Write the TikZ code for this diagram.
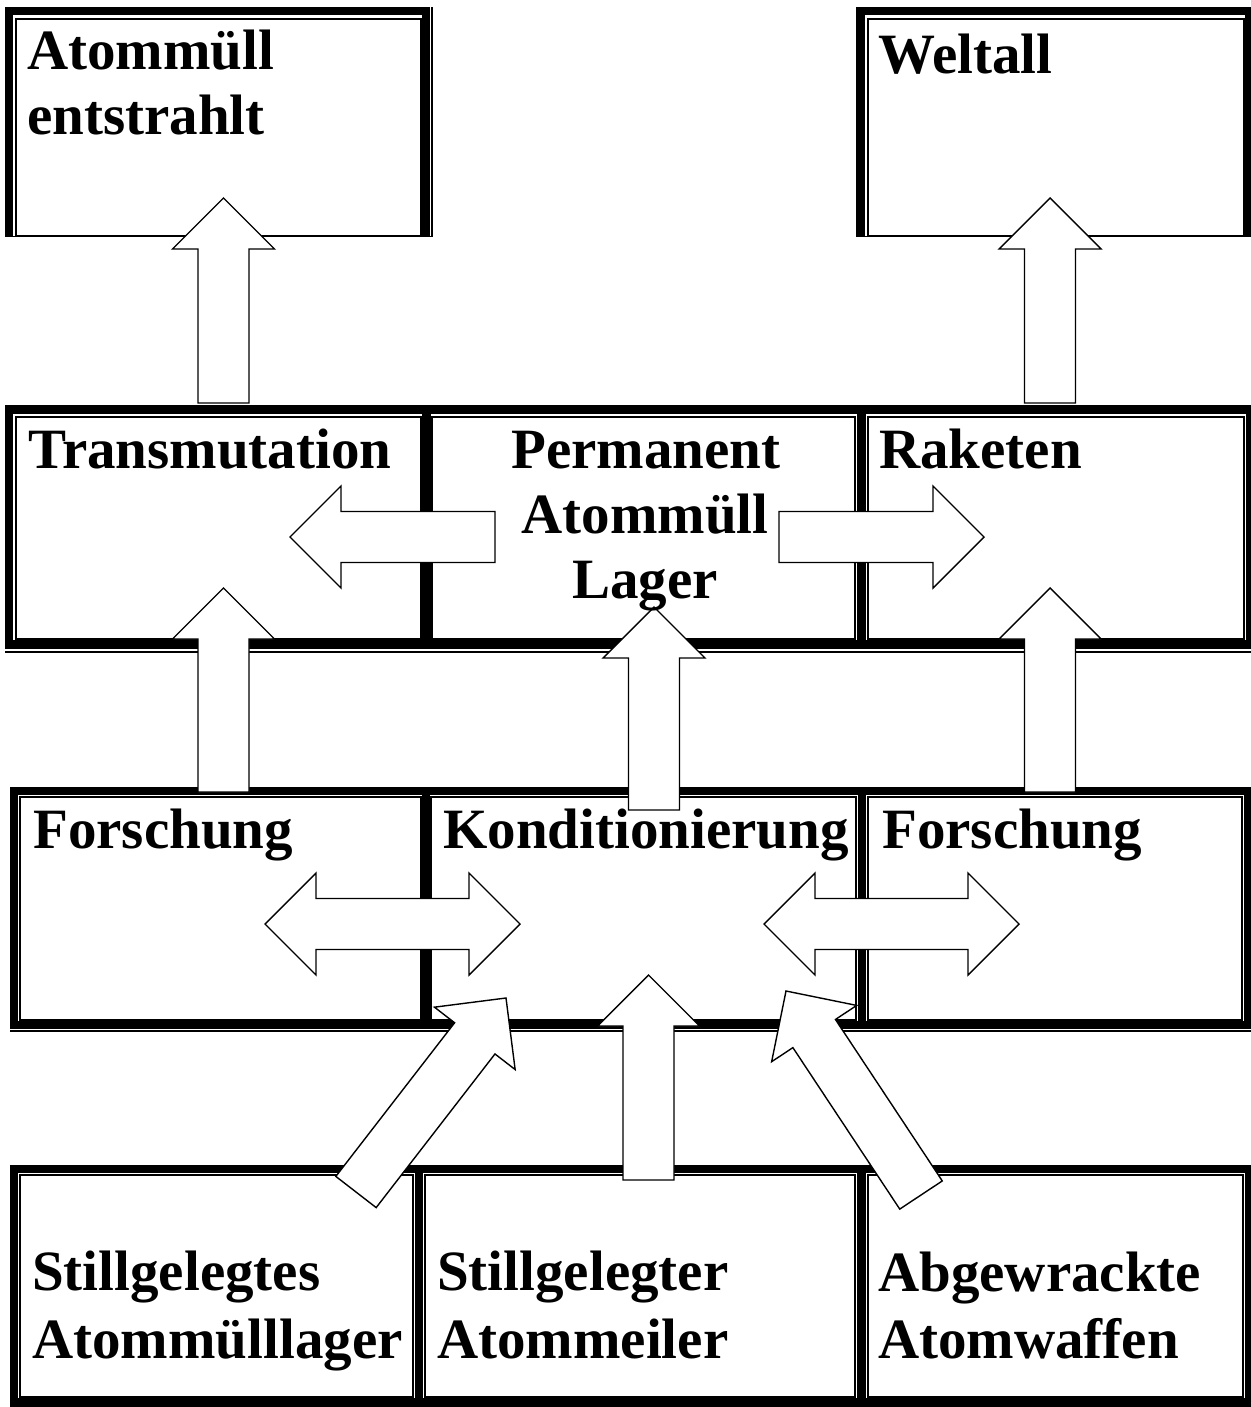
\documentclass[tikz,border=0pt]{standalone}
\usepackage{fontspec}
\setmainfont{Liberation Serif}
\usetikzlibrary{calc}
\newcommand\aw{25.5}
\newcommand\ah{51}
\newcommand\al{51}
\newcommand\mkcell[5]{\node[cell, minimum width={(#4)-(#2)}, minimum height={(#5)-(#3)}] (#1) at ({((#2)+(#4))/2},{((#3)+(#5))/2}) {};}
\tikzset{
  cell/.style={rectangle, draw=none, inner sep=0pt, outer sep=0pt},
  thinln/.style={line width=1.3pt},
  thickln/.style={line width=8.5pt, line join=miter},
  lbl/.style={inner sep=0pt, anchor=base west, font=\bfseries\fontsize{57}{65}\selectfont},
  clbl/.style={inner sep=0pt, anchor=base, font=\bfseries\fontsize{57}{65}\selectfont},
  blk/.style={draw=black, fill=white, line width=1.4pt, line join=miter},
  blockarrow/.style={blk, to path={
    let \p1=(\tikztostart), \p2=(\tikztotarget),
        \n1={atan2(\y2-\y1,\x2-\x1)}, \n2={veclen(\x2-\x1,\y2-\y1)}, \n3={\n2-\al}
    in ($(\p1)+(\n1+90:\aw pt)$)
    -- ($(\p1)+(\n1:\n3)+(\n1+90:\aw pt)$)
    -- ($(\p1)+(\n1:\n3)+(\n1+90:\ah pt)$)
    -- (\p2)
    -- ($(\p1)+(\n1:\n3)+(\n1-90:\ah pt)$)
    -- ($(\p1)+(\n1:\n3)+(\n1-90:\aw pt)$)
    -- ($(\p1)+(\n1-90:\aw pt)$) -- cycle}},
  dblarrow/.style={blk, to path={
    let \p1=(\tikztostart), \p2=(\tikztotarget),
        \n1={atan2(\y2-\y1,\x2-\x1)}, \n2={veclen(\x2-\x1,\y2-\y1)}, \n3={\n2-\al}
    in (\p1)
    -- ($(\p1)+(\n1:\al pt)+(\n1+90:\ah pt)$)
    -- ($(\p1)+(\n1:\al pt)+(\n1+90:\aw pt)$)
    -- ($(\p1)+(\n1:\n3)+(\n1+90:\aw pt)$)
    -- ($(\p1)+(\n1:\n3)+(\n1+90:\ah pt)$)
    -- (\p2)
    -- ($(\p1)+(\n1:\n3)+(\n1-90:\ah pt)$)
    -- ($(\p1)+(\n1:\n3)+(\n1-90:\aw pt)$)
    -- ($(\p1)+(\n1:\al pt)+(\n1-90:\aw pt)$)
    -- ($(\p1)+(\n1:\al pt)+(\n1-90:\ah pt)$) -- cycle}},
}
\begin{document}
\begin{tikzpicture}[x=1pt,y=-1pt]
\useasboundingbox (0,0) rectangle (1250,1407);
% cells (inner rectangles)
\mkcell{c11}{16}{19}{421}{236}
\mkcell{c13}{868}{19}{1244}{236}
\mkcell{c21}{16}{417}{421}{639}
\mkcell{c22}{432}{417}{855}{639}
\mkcell{c23}{868}{417}{1244}{639}
\mkcell{c31}{20}{797}{421}{1020}
\mkcell{c32}{431}{797}{856}{1020}
\mkcell{c33}{868}{797}{1242}{1020}
\mkcell{c41}{20}{1175}{413}{1397}
\mkcell{c42}{425}{1175}{855}{1397}
\mkcell{c43}{868}{1175}{1243}{1397}
% thick frames
\draw[thickln] ($(c11.south west)+(-7,0)$) -- ($(c11.north west)+(-7,-8)$) -- ($(c11.north east)+(5,-8)$) -- ($(c11.south east)+(5,0)$);
\draw[thickln] ($(c13.south west)+(-7.5,0)$) -- ($(c13.north west)+(-7.5,-8)$) -- ($(c13.north east)+(5,-8)$) -- ($(c13.south east)+(5,0)$);
\draw[thickln] ($(c21.north west)+(-7,-7.5)$) rectangle ($(c23.south east)+(6,5.5)$);
\draw[thickln] ($(c21.north east)!0.5!(c22.north west)+(0,-7.5)$) -- ($(c21.south east)!0.5!(c22.south west)+(0,5.5)$);
\draw[thickln] ($(c22.north east)!0.5!(c23.north west)+(0,-7.5)$) -- ($(c22.south east)!0.5!(c23.south west)+(0,5.5)$);
\draw[thickln] ($(c31.north west)+(-6,-6)$) rectangle ($(c33.south east)+(6,5)$);
\draw[thickln] ($(c31.north east)!0.5!(c32.north west)+(0,-6)$) -- ($(c31.south east)!0.5!(c32.south west)+(0,5)$);
\draw[thickln] ($(c32.north east)!0.5!(c33.north west)+(0,-6)$) -- ($(c32.south east)!0.5!(c33.south west)+(0,5)$);
\draw[thickln] ($(c41.north west)+(-6,-6)$) rectangle ($(c43.south east)+(6,5.5)$);
\draw[thickln] ($(c41.north east)!0.5!(c42.north west)+(0,-6)$) -- ($(c41.south east)!0.5!(c42.south west)+(0,5.5)$);
\draw[thickln] ($(c42.north east)!0.5!(c43.north west)+(0,-6)$) -- ($(c42.south east)!0.5!(c43.south west)+(0,5.5)$);
% thin lines
\foreach \c in {c11,c13,c21,c22,c23,c31,c32,c33,c41,c42,c43}
  \draw[thinln] (\c.north west) rectangle (\c.south east);
\draw[thinln] ($(c11.south west)+(-11,0.5)$) -- ($(c11.south east)+(11,0.5)$) -- ($(c11.north east)+(11,-12)$);
\draw[thinln] ($(c13.south west)+(-12,0.5)$) -- ($(c13.south east)+(8,0.5)$);
\draw[thinln] ($(c21.south west)+(-11,13)$) -- ($(c23.south east)+(8,13)$);
\draw[thinln] ($(c31.south west)+(-10,11)$) -- ($(c33.south east)+(10,11)$);
% arrow end points
\coordinate (a1s) at (223.5,403);  \coordinate (a1t) at (223.5,198);
\coordinate (a2s) at (1050,403);   \coordinate (a2t) at (1050,198);
\coordinate (a3s) at (223.5,792);  \coordinate (a3t) at (223.5,588);
\coordinate (a4s) at (1050,792);   \coordinate (a4t) at (1050,588);
\coordinate (a5s) at (654,810);    \coordinate (a5t) at (654,607);
\coordinate (a6s) at (495,537);    \coordinate (a6t) at (290,537);
\coordinate (a7s) at (779,537);    \coordinate (a7t) at (984,537);
\coordinate (a8s) at (265,924);    \coordinate (a8t) at (520,924);
\coordinate (a9s) at (764,924);    \coordinate (a9t) at (1019,924);
\coordinate (a10s) at (648.5,1180); \coordinate (a10t) at (648.5,975);
\coordinate (a11s) at (356,1192);  \coordinate (a11t) at (506,998);
\coordinate (a12s) at (921,1195);  \coordinate (a12t) at (786,991);
% block arrows
\draw[blockarrow] (a1s) to (a1t);
\draw[blockarrow] (a2s) to (a2t);
\draw[blockarrow] (a3s) to (a3t);
\draw[blockarrow] (a4s) to (a4t);
\draw[blockarrow] (a5s) to (a5t);
\draw[blockarrow] (a6s) to (a6t);
\draw[blockarrow] (a7s) to (a7t);
\draw[dblarrow] (a8s) to (a8t);
\draw[dblarrow] (a9s) to (a9t);
\draw[blockarrow] (a10s) to (a10t);
\draw[blockarrow] (a11s) to (a11t);
\draw[blockarrow] (a12s) to (a12t);
% texts
\node[lbl] (t11a) at (27,70) {Atommüll};
\node[lbl] (t11b) at (27,135) {entstrahlt};
\node[lbl] (t13) at (878,74) {Weltall};
\node[lbl] (t21) at (28,468) {Transmutation};
\node[clbl] (t22a) at (646,468) {Permanent};
\node[clbl] (t22b) at (645,533) {Atommüll};
\node[clbl] (t22c) at (645,598) {Lager};
\node[lbl] (t23) at (879,468) {Raketen};
\node[lbl] (t31) at (33,848) {Forschung};
\node[lbl] (t32) at (443,848) {Konditionierung};
\node[lbl] (t33) at (882,848) {Forschung};
\node[lbl] (t41a) at (32,1290) {Stillgelegtes};
\node[lbl] (t41b) at (32,1358) {Atommülllager};
\node[lbl] (t42a) at (437,1290) {Stillgelegter};
\node[lbl] (t42b) at (437,1358) {Atommeiler};
\node[lbl] (t43a) at (878,1291) {Abgewrackte};
\node[lbl] (t43b) at (878,1358) {Atomwaffen};
\end{tikzpicture}
\end{document}
